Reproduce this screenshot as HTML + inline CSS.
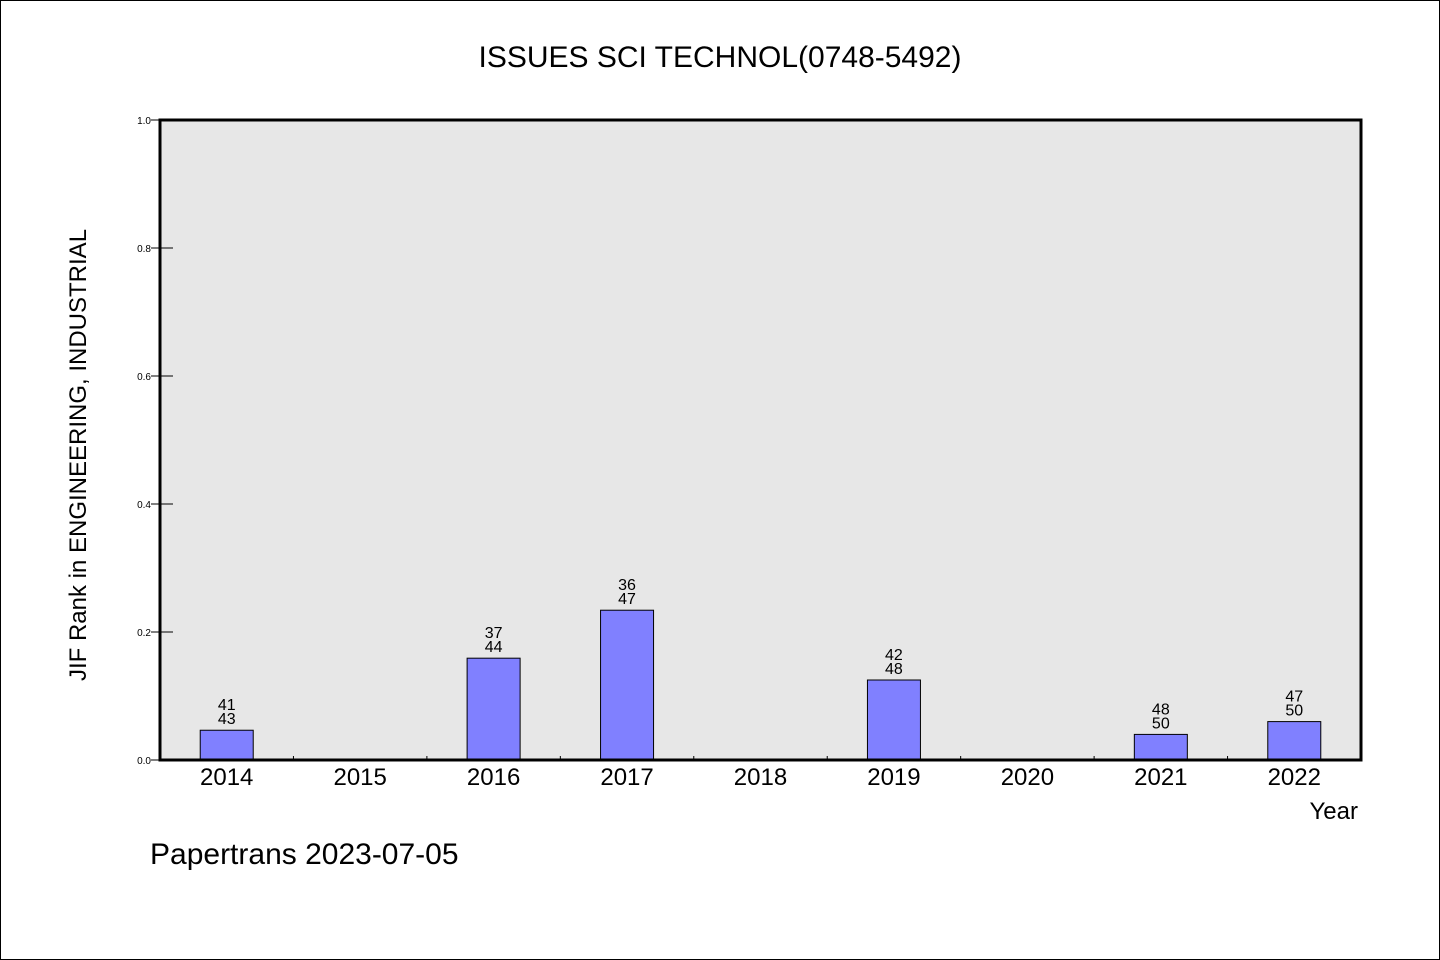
<!DOCTYPE html>
<html><head><meta charset="utf-8"><style>
html,body{margin:0;padding:0;background:#fff}
svg{display:block}
text{font-family:"WenQuanYi Zen Hei","Liberation Sans",sans-serif;fill:#000}
</style></head><body>
<svg id="chart" width="1440" height="960" viewBox="0 0 1440 960">
<rect x="0.5" y="0.5" width="1439" height="959" fill="#fff" stroke="#000"/>
<text x="720" y="67" font-size="30" text-anchor="middle">ISSUES SCI TECHNOL(0748-5492)</text>
<rect x="160" y="120" width="1201" height="640" fill="#e7e7e7"/>
<g id="yaxis"></g><g id="bars"></g><g id="xaxis"></g>
<rect x="160" y="120" width="1201" height="640" fill="none" stroke="#000" stroke-width="3"/>
<text transform="translate(86,455) rotate(-90)" font-size="24" text-anchor="middle">JIF Rank in ENGINEERING, INDUSTRIAL</text>
<text x="1358" y="819" font-size="24" text-anchor="end">Year</text>
<text x="150" y="864" font-size="30">Papertrans 2023-07-05</text>
</svg>
<script>
const years = ['2014','2015','2016','2017','2018','2019','2020','2021','2022'];
const ranks = [41,null,37,36,null,42,null,48,47];
const totals = [43,null,44,47,null,48,null,50,50];
const yTicks = [0,0.2,0.4,0.6,0.8,1.0];
const NS='http://www.w3.org/2000/svg';
const L=160,R=1361,T=120,B=760;
const slot=(R-L)/years.length;
const xC=i=>L+slot*(i+0.5);
const yS=v=>B-(B-T)*v;
function mk(tag,attrs,parent,txt){const e=document.createElementNS(NS,tag);for(const k in attrs)e.setAttribute(k,attrs[k]);if(txt!=null)e.textContent=txt;parent.appendChild(e);return e;}
const ya=document.getElementById('yaxis'),ba=document.getElementById('bars'),xa=document.getElementById('xaxis');
yTicks.forEach(t=>{
  const ln=mk('line',{x1:151,x2:173,y1:yS(t),y2:yS(t),stroke:'#000','stroke-width':1},ya);
  
  
  const tx=mk('text',{x:151,y:yS(t)+4,'font-size':10,'text-anchor':'end'},ya,t.toFixed(1));
  
  
});
years.forEach((yr,i)=>{
  if(i>0){const tk=mk('line',{x1:L+slot*i,x2:L+slot*i,y1:B-4,y2:B,stroke:'#000','stroke-width':1},xa);
    
    }
  const lb=mk('text',{x:xC(i),y:B+25,'font-size':24,'text-anchor':'middle'},xa,yr);
  
  
  if(ranks[i]==null)return;
  const v=(totals[i]-ranks[i])/totals[i];
  const b=mk('rect',{x:xC(i)-26.5,y:yS(v),width:53,height:B-yS(v),fill:'#8080ff',stroke:'#000','stroke-width':1},ba);
  
  
  const t1=mk('text',{x:xC(i),y:yS(v)-20,'font-size':16,'text-anchor':'middle'},ba,String(ranks[i]));
  
  
  const t2=mk('text',{x:xC(i),y:yS(v)-6,'font-size':16,'text-anchor':'middle'},ba,String(totals[i]));
  
  
});
</script>
</body></html>
